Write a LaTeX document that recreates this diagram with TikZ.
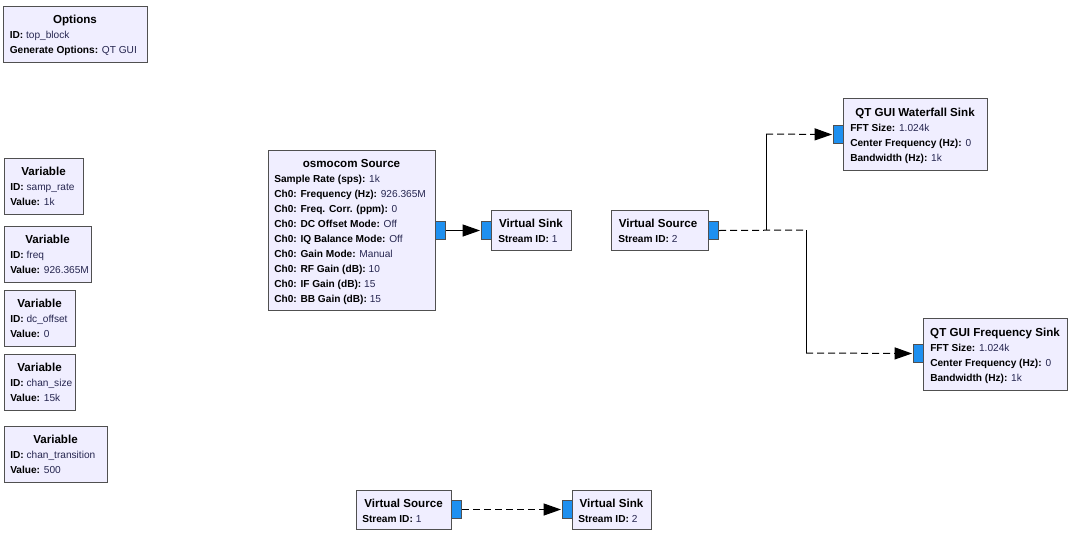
\documentclass[tikz,border=0pt]{standalone}
\usepackage{fontspec}
\setmainfont{Liberation Sans}
\usetikzlibrary{arrows.meta}
\definecolor{blkfill}{HTML}{F0EEFF}
\definecolor{bordercol}{HTML}{505050}
\definecolor{portfill}{HTML}{1E90F0}
\definecolor{valcol}{HTML}{262650}
\newcommand\pkv[2]{\textbf{#1:} \textcolor{valcol}{#2}}
\begin{document}
\begin{tikzpicture}[x=0.75pt,y=-0.75pt,
  blk/.style={draw=bordercol, fill=blkfill, line width=0.75pt, inner sep=0pt, anchor=north west},
  port/.style={draw=bordercol, fill=portfill, line width=0.75pt, inner sep=0pt, anchor=north west,
               minimum width=10*0.75pt, minimum height=18*0.75pt},
  ttl/.style={font=\fontsize{8.7}{10}\selectfont\bfseries, anchor=base, inner sep=0pt},
  prm/.style={font=\fontsize{7.6}{9}\selectfont, anchor=base west, inner sep=0pt},
  conn/.style={line width=0.75pt, -{Triangle[length=13pt,width=9pt]}, shorten >=0.75pt},
  dconn/.style={line width=0.75pt, dash pattern=on 5.25pt off 3pt},
  vline/.style={line width=0.75pt}]
\useasboundingbox[fill=white] (0,0) rectangle (1081,533);

% Options
\node[blk, minimum width=144*0.75pt, minimum height=56*0.75pt] (opt) at (3,6) {};
\node[ttl] (optT) at (75,23) {Options};
\node[prm] (optA) at (9.5,38) {\pkv{ID}{top\_block}};
\node[prm] (optB) at (9.5,53) {\pkv{Generate Options}{QT GUI}};

% Variables
\node[blk, minimum width=79*0.75pt, minimum height=56*0.75pt] (v1) at (4,158) {};
\node[ttl] (v1T) at (43.5,175) {Variable};
\node[prm] (v1A) at (10,190) {\pkv{ID}{samp\_rate}};
\node[prm] (v1B) at (10,205) {\pkv{Value}{1k}};

\node[blk, minimum width=87*0.75pt, minimum height=56*0.75pt] (v2) at (4,226) {};
\node[ttl] (v2T) at (47.5,243) {Variable};
\node[prm] (v2A) at (10,258) {\pkv{ID}{freq}};
\node[prm] (v2B) at (10,273) {\pkv{Value}{926.365M}};

\node[blk, minimum width=71*0.75pt, minimum height=56*0.75pt] (v3) at (4,290) {};
\node[ttl] (v3T) at (39.5,307) {Variable};
\node[prm] (v3A) at (10,322) {\pkv{ID}{dc\_offset}};
\node[prm] (v3B) at (10,337) {\pkv{Value}{0}};

\node[blk, minimum width=71*0.75pt, minimum height=56*0.75pt] (v4) at (4,354) {};
\node[ttl] (v4T) at (39.5,371) {Variable};
\node[prm] (v4A) at (10,386) {\pkv{ID}{chan\_size}};
\node[prm] (v4B) at (10,401) {\pkv{Value}{15k}};

\node[blk, minimum width=103*0.75pt, minimum height=56*0.75pt] (v5) at (4,426) {};
\node[ttl] (v5T) at (55.5,443) {Variable};
\node[prm] (v5A) at (10,458) {\pkv{ID}{chan\_transition}};
\node[prm] (v5B) at (10,473) {\pkv{Value}{500}};

% osmocom Source
\node[blk, minimum width=167*0.75pt, minimum height=160*0.75pt] (osm) at (268,150) {};
\node[ttl] (osmT) at (351.5,167) {osmocom Source};
\node[prm] (osm1) at (274,182) {\pkv{Sample Rate (sps)}{1k}};
\node[prm] (osm2) at (274,197) {\pkv{Ch0: Frequency (Hz)}{926.365M}};
\node[prm] (osm3) at (274,212) {\pkv{Ch0: Freq. Corr. (ppm)}{0}};
\node[prm] (osm4) at (274,227) {\pkv{Ch0: DC Offset Mode}{Off}};
\node[prm] (osm5) at (274,242) {\pkv{Ch0: IQ Balance Mode}{Off}};
\node[prm] (osm6) at (274,257) {\pkv{Ch0: Gain Mode}{Manual}};
\node[prm] (osm7) at (274,272) {\pkv{Ch0: RF Gain (dB)}{10}};
\node[prm] (osm8) at (274,287) {\pkv{Ch0: IF Gain (dB)}{15}};
\node[prm] (osm9) at (274,302) {\pkv{Ch0: BB Gain (dB)}{15}};
\node[port] (osmp) at (435,221) {};

% Virtual Sink 1
\node[blk, minimum width=80*0.75pt, minimum height=40*0.75pt] (vk1) at (491,210) {};
\node[ttl] (vk1T) at (531,227) {Virtual Sink};
\node[prm] (vk1A) at (498,242) {\pkv{Stream ID}{1}};
\node[port] (vk1p) at (481,221) {};

% Virtual Source 2
\node[blk, minimum width=97*0.75pt, minimum height=40*0.75pt] (vs2) at (611,210) {};
\node[ttl] (vs2T) at (658,227) {Virtual Source};
\node[prm] (vs2A) at (618,242) {\pkv{Stream ID}{2}};
\node[port] (vs2p) at (708,221) {};

% QT GUI Waterfall Sink
\node[blk, minimum width=144*0.75pt, minimum height=72*0.75pt] (wf) at (843,98) {};
\node[ttl] (wfT) at (915,116) {QT GUI Waterfall Sink};
\node[prm] (wf1) at (850,131) {\pkv{FFT Size}{1.024k}};
\node[prm] (wf2) at (850,146) {\pkv{Center Frequency (Hz)}{0}};
\node[prm] (wf3) at (850,161) {\pkv{Bandwidth (Hz)}{1k}};
\node[port] (wfp) at (833,125) {};

% QT GUI Frequency Sink
\node[blk, minimum width=144*0.75pt, minimum height=72*0.75pt] (fs) at (923,318) {};
\node[ttl] (fsT) at (995,336) {QT GUI Frequency Sink};
\node[prm] (fs1) at (930,351) {\pkv{FFT Size}{1.024k}};
\node[prm] (fs2) at (930,366) {\pkv{Center Frequency (Hz)}{0}};
\node[prm] (fs3) at (930,381) {\pkv{Bandwidth (Hz)}{1k}};
\node[port] (fsp) at (913,344) {};

% bottom Virtual Source 1
\node[blk, minimum width=95*0.75pt, minimum height=39*0.75pt] (vs1) at (356,490) {};
\node[ttl] (vs1T) at (403.5,507) {Virtual Source};
\node[prm] (vs1A) at (362,522) {\pkv{Stream ID}{1}};
\node[port] (vs1p) at (451,500) {};

% bottom Virtual Sink 2
\node[blk, minimum width=79*0.75pt, minimum height=39*0.75pt] (vk2) at (572,490) {};
\node[ttl] (vk2T) at (611.5,507) {Virtual Sink};
\node[prm] (vk2A) at (578,522) {\pkv{Stream ID}{2}};
\node[port] (vk2p) at (562,500) {};

% connectors
\draw[conn] (osmp.east) -- (vk1p.west);

\coordinate (j1) at (766,230);
\coordinate (w1) at (766,134);
\coordinate (f0) at (806,230);
\coordinate (f1) at (806,353);
\draw[dconn] (vs2p.east) -- (f0);
\draw[vline] (j1) -- (w1);
\draw[dconn, conn] (w1) -- (wfp.west);
\draw[vline] (f0) -- (f1);
\draw[dconn, conn] (f1) -- (fsp.west);

\draw[dconn, conn] (vs1p.east) -- (vk2p.west);
\end{tikzpicture}
\end{document}
